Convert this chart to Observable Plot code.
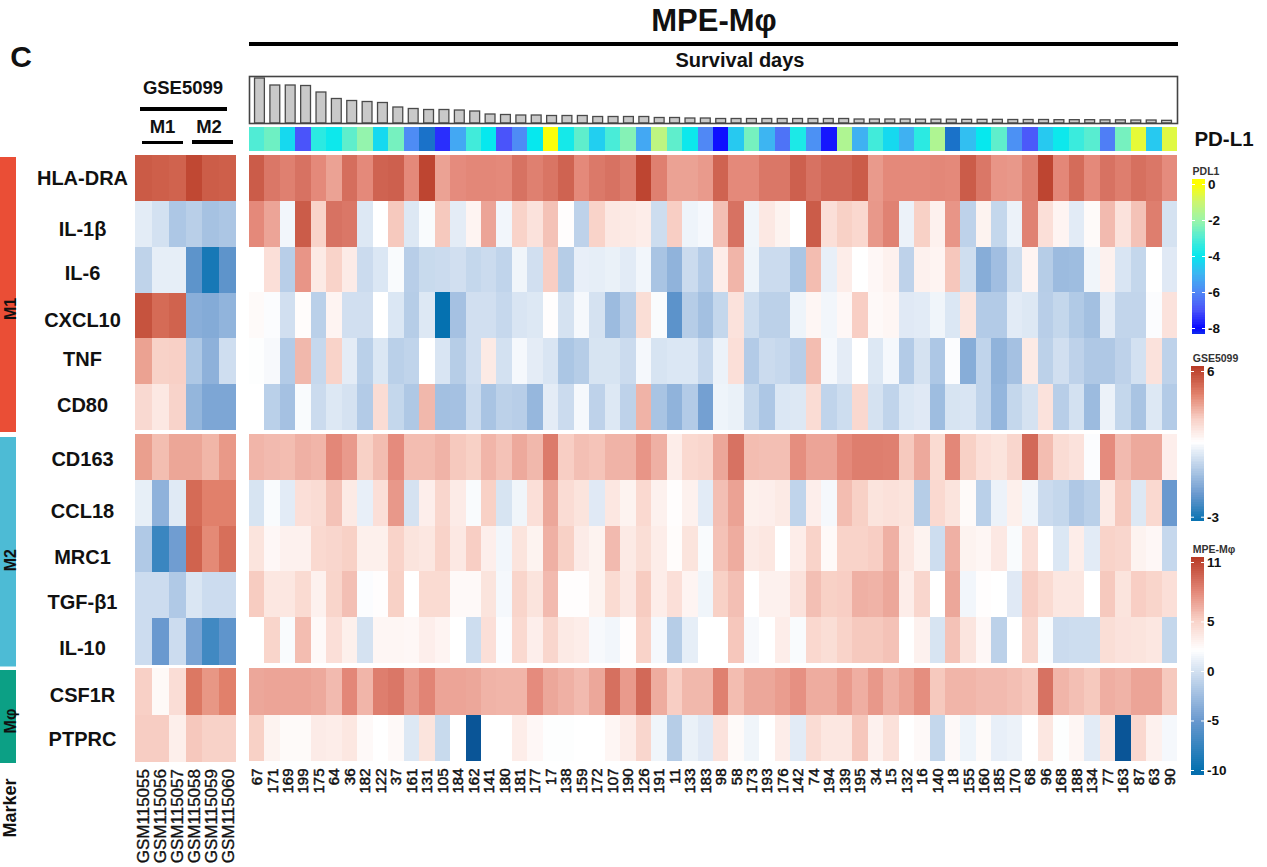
<!DOCTYPE html>
<html><head><meta charset="utf-8">
<script src="https://cdn.jsdelivr.net/npm/d3@7"></script>
<script src="https://cdn.jsdelivr.net/npm/@observablehq/plot@0.6"></script>
<style>
html,body{margin:0;padding:0;background:#fff}
#page{position:relative;width:1267px;height:867px;overflow:hidden;font-family:"Liberation Sans",Arial,sans-serif;color:#111}
#page>svg,#page>figure{position:absolute;margin:0}
.t{position:absolute;font-weight:bold;white-space:nowrap;line-height:1;transform:translate(-50%,-50%)}
.r{position:absolute;background:#000}
</style></head><body><div id="page"></div>
<script>
// ---------- categories and tick labels ----------
const samples = ["67","171","169","199","175","64","36","182","122","37","161","131","105","184","162","141","180","181","177","17","138","159","172","107","190","126","191","11","133","183","98","58","173","193","176","142","74","194","139","195","34","15","132","16","140","18","155","160","185","170","68","96","168","188","134","77","163","87","63","90"];
const gseSamples = ["GSM115055","GSM115056","GSM115057","GSM115058","GSM115059","GSM115060"];
const m1Genes = ["HLA-DRA","IL-1β","IL-6","CXCL10","TNF","CD80"];
const m2Genes = ["CD163","CCL18","MRC1","TGF-β1","IL-10"];
const mpGenes = ["CSF1R","PTPRC"];

// ---------- survival days and PD-L1 per MPE sample ----------
const survivalDays = [1350,1140,1140,1125,930,735,675,645,615,480,435,405,405,390,360,270,255,240,240,225,225,225,195,195,195,195,165,165,150,150,135,135,135,135,135,135,135,135,135,120,120,120,120,115,115,115,110,110,110,105,105,105,100,100,100,95,95,90,90,80];
const pdl1 = [-3,-2.6,-4.3,-7,-3.5,-3.9,-2.8,-2.1,-4.3,-2.5,-5.9,-9,-7.5,-5.3,-3.2,-4,-7,-5.9,-4,-.1,-3.8,-2.8,-4.5,-3.1,-2.3,-5.3,-1.3,-2.8,-3.9,-6,-7.9,-4.6,-2.5,-5,-6.4,-3.7,-5.8,-7.8,-1.6,-5.1,-3.2,-4.3,-5.1,-3.5,-1.6,-9,-4.8,-4,-2.8,-5.8,-6.9,-4.6,-3.9,-3.3,-2.9,-6.2,-2.5,-.5,-4.6,-.6];

// ---------- MPE-Mφ expression, one list per gene ----------
const mpeHLADRA = [10,8.8,8.4,9,8,7,9.2,8,9.7,9.8,8,11,7,7.9,8.1,8.1,8,9,8.4,8.9,9.7,8,8.7,9,8.6,11,8.4,7,7,7.3,9.7,8,8,8.8,8.8,9.8,9,9.5,9.5,10,7.3,8,8,8,8.1,8,10,8.8,7.5,7.4,8.4,11,8.1,9.3,8,9,8.5,9.1,8.8,7.9];
const mpeIL1B = [8,6.9,1.5,10,5,9,8.8,.5,2.1,5.4,.5,1.8,5.4,.8,2.8,6.9,1.5,5,4,5.7,2.2,-1,5,3.6,3.5,3.3,-.3,5.2,1.3,1.6,5.8,9,1.4,3.6,2.9,2.1,10,4.2,5.1,4.7,7.4,8.3,1.2,5.1,3,7.5,-1,2.9,-.7,1.2,8.3,4.2,2.8,.7,2.4,6,4,5.7,8.5,.1];
const mpeIL6 = [2.1,4.2,-1.3,7.5,3.5,5,3.4,-.4,.4,1.8,-1.3,-.5,-.4,-.1,-.7,-.4,-.9,1.4,-.1,5.2,-1.4,1,.9,1.1,.7,1.5,-2,-3.2,-.4,-1.5,3.3,6.2,1.3,-.4,-.4,-1.9,5.9,1,3.3,2.1,2.6,3,-1,3,2.8,5.5,-.2,-3.6,-2.4,-.3,2.8,-1.4,-2.6,-2.5,1.4,3,.3,-.7,2.1,.6];
const mpeCXCL10 = [2.4,1.9,-.1,2.3,-1.2,2.8,-.1,-.1,2.1,.4,-1.4,.5,-10,-2.2,-.1,-.1,-.6,.3,.5,2.2,.1,1.6,.1,-2.6,-1.3,4.3,1.8,-5.7,-1.4,-2.3,-.7,4,-.3,-1.1,-1.1,1.3,2.7,1.5,2.6,5.2,2.5,2.7,.6,.7,1.4,.4,3.8,-1.5,-1.5,.7,.5,-1.3,-.7,-1.6,-2.3,.8,-.8,-.8,1.9,4];
const mpeTNF = [2,1.7,-1.5,6.1,-.6,5,.8,-1.2,.4,-1.2,-.9,2.1,.3,-1.4,-.1,3.5,0,1.6,.8,.3,-1.9,-1.4,.2,.2,-.4,1.6,.2,.4,.4,-.6,1.2,4.2,-1.5,-.4,-.6,-1.3,5.9,1.6,.8,2.1,.5,1.6,-1.5,.1,-1.8,1.9,-3.6,-.9,-3.2,-2.2,3.5,-1.1,-.1,-1,-1.7,-1.7,-1,0,4,-1];
const mpeCD80 = [2.1,-1.2,-2.2,1.8,-.4,.5,.1,-1.5,4.4,-.7,-1.7,6.1,-2.3,-2.2,-.4,-2,-1.1,-1.3,-2.9,.8,-.4,1.6,-1,.5,-1,6.3,-2,-3.2,-1.5,-4.5,1.3,1.1,-.7,-1.8,.4,.5,4.4,-.9,-.3,4.7,.1,-.9,.4,.6,-2.5,.2,.3,-.9,-3,-.7,.1,4,-1.3,0,-2.6,1.2,-.7,-2,.5,-1.5];
const mpeCD163 = [6.2,6,5.9,6.4,6.2,8.1,7.3,5.1,5.9,7.9,5.9,5.9,6.3,5.4,5.1,6.2,5.7,6.7,6.1,8.6,5.2,5.8,5.6,6.3,6.3,7.5,6.4,3.3,4.6,4.8,6.8,9,5.9,5.8,5.8,7.8,6.9,6.9,8,8.5,8.5,8.4,5.4,6.7,4.5,8.1,5.1,4.2,3.9,4.8,9.4,5.9,4.4,4,1.9,7.9,6,6.7,6.7,3.2];
const mpeCCL18 = [.2,1.8,.7,4.2,4.4,5.7,3.5,1,4.2,7.4,.1,3.2,4.8,3.4,1.8,5.1,.2,1.4,4.2,6.8,4.4,3.9,.6,3.7,2.9,4.6,3,2.2,3,.7,5.8,7,3.1,3.2,3.5,-.9,3.2,1.6,5.9,5.1,3.9,4.1,3.9,-1.4,4.6,3.9,2.4,-1.2,1.2,3.1,1.5,-.4,-.7,-1.7,-1.2,3.5,5.4,.5,4.6,-5];
const mpeMRC1 = [3.9,2.6,3,3,4.6,4.8,5.1,3.1,3.1,5,3.9,3.7,5,3.6,5.2,3.2,1.5,3.9,2.9,6.4,5.1,3.4,2.9,6,3.5,4.3,3.3,2.3,3.9,1.8,5.7,6.6,3.5,3.7,2.1,3.3,5,2.5,5,5,5.2,6.4,3.7,2.9,-.3,6.4,2.9,2.7,3.6,1.8,4.2,2.1,.4,3.3,.7,5,4.8,2.9,2.6,-.6];
const mpeTGFB1 = [5.3,3.7,3.7,4.5,3,4.9,5.8,1.9,2.2,5.1,2.1,4.5,4.5,2.5,2.5,3.9,1.6,4.9,3.9,6,2.2,2.2,2.9,4.5,3.6,5.3,3.3,4.2,2.8,1.4,5.1,5.8,2.1,3,3,4,5.8,5.1,5.2,6.4,6.3,6.8,3.3,4.8,2.1,6.8,1.5,2.2,2.1,.6,5.2,4.5,3.7,3.7,2.1,5.4,3.9,5.2,4.9,4.2];
const mpeIL10 = [2.1,4.9,1.8,5.9,2.5,4.2,3.1,.1,2.7,2.7,2.6,3.2,2.8,2.1,-.3,4.2,1.9,4.6,3.2,4.8,3.5,3.3,1.7,1.5,2.2,5,1.6,-1.4,.9,2.1,2.1,5.5,1.7,2.1,3.3,1.8,4.7,4.3,5,5.4,5.4,5.7,2.1,3,.2,5.7,3.8,2.6,-1.1,2.1,4.8,1.8,-.4,-.3,-.3,4.3,4,3.9,3.7,-.7];
const mpeCSF1R = [6.8,6.9,6.9,6.9,6.7,6,8.1,6.2,8.5,8.8,7.4,8.2,6.9,6.9,6.8,6.3,6.2,6.2,7.9,6.8,6.4,6,6.8,9.1,7.3,9.4,6.6,5.2,6.1,6.1,8.4,5.9,6.8,6.8,7.2,7.7,6.6,6.6,7.3,6.5,7.4,6.4,7,7.8,5.4,6.2,6.2,6,6,5.8,5.5,9,6.2,5.8,5.4,6.5,6.3,6.9,6.9,5.4];
const mpePTPRC = [5.1,2.9,2.4,2.4,3.4,3.3,3.7,2.5,2.1,2.5,.5,3.9,-.5,2.1,-13,2.1,2.1,3.3,2.6,2,2,2.1,2.1,2.7,3.3,4.8,1.4,-1.4,1.1,.6,4,2.4,1.4,2.1,3.3,.7,4.4,3.7,3.7,5.5,3,4.1,2.1,2.5,-.7,2.5,1.3,2.4,1,1.2,2.1,3.7,2,2.7,.7,3.7,-13,4.7,3,1.6];

// ---------- GSE5099 expression, one list per gene ----------
const gseHLADRA = [5.5,5.4,5.3,5.95,5.45,5.4];
const gseIL1B = [1,.65,-.17,.09,-.33,-.2];
const gseIL6 = [.22,1.05,1.05,-1.84,-3,-1.82];
const gseCXCL10 = [5.7,5.1,5.3,-.95,-1.05,-.78];
const gseTNF = [3.93,3,3.05,-.14,-.85,.57];
const gseCD80 = [2.76,2.3,2.95,-.72,-1.2,-1.2];
const gseCD163 = [4,3.4,3.85,3.85,3.55,4.1];
const gseCCL18 = [1.08,-.82,.93,5.1,4.6,4.6];
const gseMRC1 = [-.1,-2.42,-1.5,5.3,4.4,5];
const gseTGFB1 = [.5,.5,-.1,.8,.5,.5];
const gseIL10 = [.5,-1.62,.5,-1.27,-2.3,-1.8];
const gseCSF1R = [3.05,1.8,2.65,4.8,4.15,4.6];
const gsePTPRC = [3.1,3.1,2.1,3.2,3,3];

const mpeByGene = {"HLA-DRA":mpeHLADRA,"IL-1β":mpeIL1B,"IL-6":mpeIL6,"CXCL10":mpeCXCL10,"TNF":mpeTNF,"CD80":mpeCD80,"CD163":mpeCD163,"CCL18":mpeCCL18,"MRC1":mpeMRC1,"TGF-β1":mpeTGFB1,"IL-10":mpeIL10,"CSF1R":mpeCSF1R,"PTPRC":mpePTPRC};
const gseByGene = {"HLA-DRA":gseHLADRA,"IL-1β":gseIL1B,"IL-6":gseIL6,"CXCL10":gseCXCL10,"TNF":gseTNF,"CD80":gseCD80,"CD163":gseCD163,"CCL18":gseCCL18,"MRC1":gseMRC1,"TGF-β1":gseTGFB1,"IL-10":gseIL10,"CSF1R":gseCSF1R,"PTPRC":gsePTPRC};

// ---------- colour scales ----------
const mpeColor = {type:"linear",domain:[-14,-10,-5,2.1,5,8,11.5],range:["#0c4b8e","#0571b0","#6a99cf","#ffffff","#f9d3c9","#e4897a","#b83a25"],clamp:true};
const gseColor = {type:"linear",domain:[-3.3,-1.62,1.6,3.05,4.55,6.3],range:["#0571b0","#6a99cf","#ffffff","#f8d0c6","#e2826d","#b83a25"],clamp:true};
const pdl1Color = {type:"linear",domain:[-9,-8,-7,-6,-5,-4,-3,-2,-1,0],range:["#1a72c9","#0808ff","#4a54fa","#5088f5","#3db5f2","#06e8ee","#50ecd5","#9cf5a9","#ccf570","#ffff00"],clamp:true};

const FONT = '"Liberation Sans",Arial,sans-serif';
const page = document.getElementById("page");
const put = (el,left,top)=>{el.style.position="absolute";el.style.left=left+"px";el.style.top=top+"px";page.appendChild(el);return el;};
const label = (txt,x,y,size,extra="")=>{const d=document.createElement("div");d.className="t";d.textContent=txt;d.style.cssText=`left:${x}px;top:${y}px;font-size:${size}px;${extra}`;page.appendChild(d);};
const bar = (x,y,w,h)=>{const d=document.createElement("div");d.className="r";d.style.cssText=`left:${x}px;top:${y}px;width:${w}px;height:${h}px`;page.appendChild(d);};
const base = {style:{fontFamily:FONT,background:"transparent",overflow:"visible"}};

// ---------- heatmap blocks ----------
const geneDy = {"HLA-DRA":0,"IL-1β":5,"IL-6":4,"CXCL10":5,"TNF":-2,"CD80":-2,"CD163":2,"CCL18":8,"MRC1":8,"TGF-β1":7,"IL-10":7,"CSF1R":4,"PTPRC":1};
function heat({genes,cols,byGene,color,x0,x1,y0,y1,labels,bottom,tickFont}){
  const table = genes.flatMap(g=>cols.map((c,i)=>({gene:g,col:c,value:byGene[g][i]})));
  const marks = [Plot.cell(table,{x:"col",y:"gene",fill:"value",inset:0,shapeRendering:"crispEdges"})];
  if(labels) for(const g of genes) marks.push(Plot.text([g],{y:d=>d,frameAnchor:"left",dx:-53,dy:geneDy[g],textAnchor:"middle",fontSize:20,fontWeight:"bold",fill:"#111"}));
  if(bottom) marks.push(Plot.axisX({tickRotate:-90,tickSize:0,tickPadding:7,label:null,fontSize:tickFont.size,fontWeight:tickFont.weight,fill:"#111",textStroke:"#111",textStrokeWidth:tickFont.stroke}));
  const ml = labels?x0:0;
  const p = Plot.plot({...base,width:(x1-x0)+ml,height:(y1-y0)+(bottom?105:0),marginLeft:ml,marginRight:0,marginTop:0,marginBottom:bottom?105:0,
    x:{domain:cols,padding:0,round:false,axis:null},y:{domain:genes,padding:0,round:false,axis:null},color,marks});
  put(p,x0-ml,y0);
}
const blocks=[{genes:m1Genes,y0:155,y1:429.5,yl:430},{genes:m2Genes,y0:434,y1:663,yl:664.5},{genes:mpGenes,y0:667.5,y1:760.5,yl:761,bottom:true}];
for(const b of blocks){
  heat({...b,y1:b.yl,cols:gseSamples,byGene:gseByGene,color:gseColor,x0:135,x1:236,labels:true,tickFont:{size:17,weight:"normal",stroke:0.35}});
  heat({...b,cols:samples,byGene:mpeByGene,color:mpeColor,x0:249,x1:1177,tickFont:{size:15,weight:"normal",stroke:0.5}});
}

// ---------- survival bars ----------
const survTable = samples.map((s,i)=>({s,d:survivalDays[i]}));
put(Plot.plot({...base,width:928,height:47,margin:0,x:{domain:samples,padding:.36,round:false,axis:null},y:{domain:[0,1410],axis:null},
  marks:[Plot.barY(survTable,{x:"s",y:"d",fill:"#c9c9c9",stroke:"#4a4a4a",strokeWidth:1.3}),Plot.frame({stroke:"#444",strokeWidth:1.6})]}),249,75.5);

// ---------- PD-L1 strip ----------
const pdTable = samples.map((s,i)=>({s,v:pdl1[i]}));
put(Plot.plot({...base,width:928,height:24,margin:0,x:{domain:samples,padding:0,round:false,axis:null},y:{axis:null},color:pdl1Color,
  marks:[Plot.cell(pdTable,{x:"s",fill:"v",inset:0,shapeRendering:"crispEdges"})]}),249,126.7);

// ---------- marker stripes ----------
const markers=[{name:"M1",y0:157,y1:432,fill:"#ea4e36",dy:14},{name:"M2",y0:436.5,y1:666,fill:"#4dbbd5",dy:8},{name:"Mφ",y0:670,y1:763,fill:"#0ca085",dy:4}];
for(const m of markers){
  put(Plot.plot({...base,width:16,height:m.y1-m.y0,margin:0,
    x:{domain:[m.name],padding:0,round:false,axis:null},y:{domain:[m.name],padding:0,round:false,axis:null},color:{type:"identity"},
    marks:[Plot.cell([m],{x:"name",y:"name",fill:"fill",inset:0}),Plot.text([m],{text:"name",x:"name",y:"name",rotate:-90,dy:m.dy,dx:2,fontSize:16,fontWeight:"bold",fill:"#111"})]}),0,m.y0);
}

// ---------- colour legends ----------
function legend(title,ticks,cfg,color,x,yT,yB,y0,y1,titleY,steps){
  const [a,b]=[ticks[0],ticks[ticks.length-1]];
  const per=(a-b)/(y1-y0);
  const top=a+(y0-yT)*per, bot=b-(yB-y1)*per;
  const n=steps, dv=(top-bot)/n;
  const slices=d3.range(n).map(i=>({lo:bot+i*dv,hi:bot+(i+1)*dv}));
  const p=Plot.plot({...base,width:40,height:yB-yT,marginLeft:0,marginRight:27,marginTop:0,marginBottom:0,
    x:{axis:null},y:{domain:[bot,top],axis:null},color,
    marks:[Plot.rectY(slices,{y1:"lo",y2:"hi",fill:d=>(d.lo+d.hi)/2,shapeRendering:"crispEdges"}),
      Plot.tickY(ticks,{y:d=>d,stroke:"#fff",strokeWidth:1,strokeDasharray:"3 7"}),
      Plot.text(ticks,{y:d=>d,text:d=>String(d),frameAnchor:"left",dx:15.5,textAnchor:"start",fontSize:13.5,fontWeight:"bold",fill:"#111"})]});
  put(p,x,yT);
  label(title,x+(cfg.w/2),titleY,cfg.size,"color:#333");
}
legend("PDL1",[0,-2,-4,-6,-8],{w:28,size:10.5},{...pdl1Color},1192,179,334,184,328,171,90);
legend("GSE5099",[6,-3],{w:49,size:10.5},gseColor,1191,366,521,371,516.7,357.5,90);
legend("MPE-Mφ",[11,5,0,-5,-10],{w:46,size:10.5},mpeColor,1191,557,775,562,770,548.5,110);

// ---------- titles and rules ----------
label("MPE-Mφ",714,20,31);
bar(249,41.5,929,4);
label("Survival days",740,60,20);
label("C",21,57,30);
label("GSE5099",183,88,18.5);
bar(140,107,87,4);
label("M1",162.5,127,18.5);
label("M2",209,127,18.5);
bar(142,140.5,41,3.5);
bar(192,140,41,3.5);
label("PD-L1",1224,139,20.5);
label("Marker",9.5,808,18,"transform:translate(-50%,-50%) rotate(-90deg)");
</script></body></html>
